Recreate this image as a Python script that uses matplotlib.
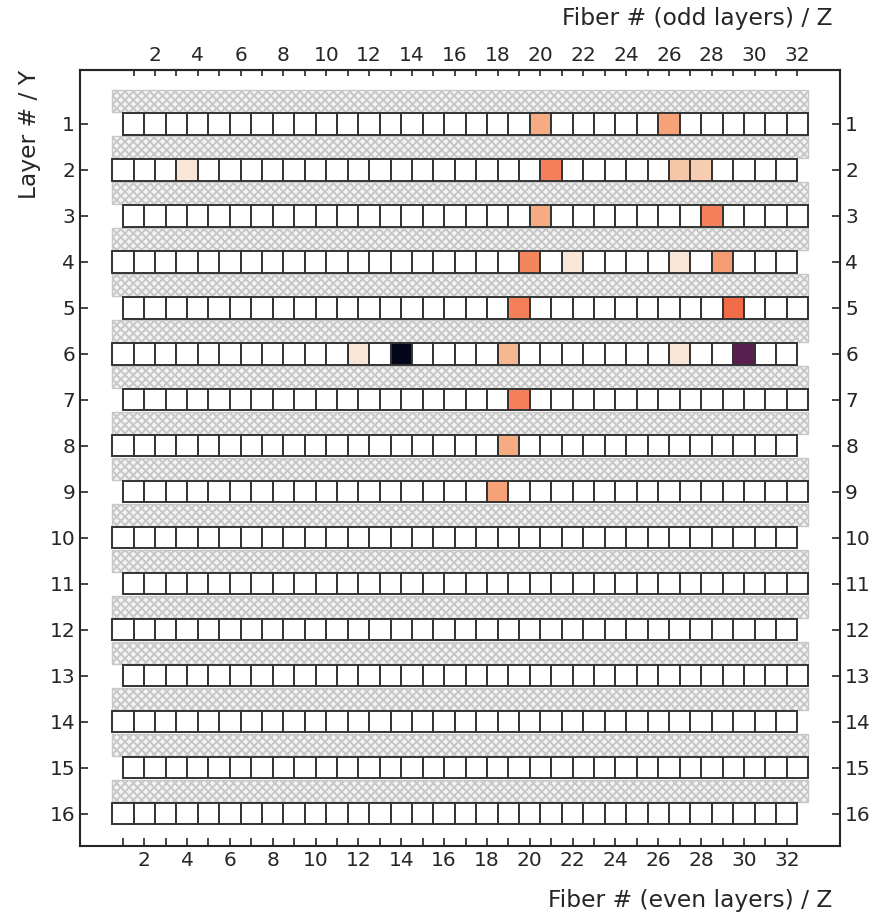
import numpy as np
import matplotlib
matplotlib.use('Agg')
import matplotlib.pyplot as plt
import seaborn as sns

sns.set_style('ticks')
plt.rcParams['font.family'] = ['DejaVu Sans']
plt.rcParams['hatch.linewidth'] = 1.4

# 검출기 구성
n_layers = 16
n_fibers = 32

# 히트가 있는 셀 (layer, fiber, count)
hit_layers = [1, 1, 2, 2, 2, 2, 3, 3, 4, 4, 4, 4, 5, 5, 6, 6, 6, 6, 6, 7, 8, 9]
hit_fibers = [20, 26, 4, 21, 27, 28, 20, 28, 20, 22, 27, 29, 19, 29, 12, 14, 19, 27, 30, 19, 19, 18]
hit_counts = [5, 5.7, 0.4, 8, 3, 2.4, 5, 8, 7.5, 0.4, 0.4, 6, 8, 9.3, 0.4, 30, 4, 0.4, 23, 8, 5, 5.7]

counts = np.zeros((n_layers, n_fibers))
for l, f, c in zip(hit_layers, hit_fibers, hit_counts):
    counts[l - 1, f - 1] = c

cmap = sns.color_palette('rocket_r', as_cmap=True)
norm = plt.Normalize(vmin=0, vmax=30)

fig = plt.figure(figsize=(8.79, 9.16), dpi=100)
ax = fig.add_axes([0.091, 0.0764, 0.865, 0.847])

fibers = np.arange(1, n_fibers + 1)
layers = np.arange(1, n_layers + 1)
cell_h = 0.46
band_h = 0.47

# 층 사이 해칭 띠
ax.barh(layers - 0.5, width=32.5, left=0.5, height=band_h, color='#f4f4f4',
        edgecolor='0.78', hatch='xxxx', linewidth=1, zorder=1)

for layer in layers:
    offset = 0.5 if layer % 2 == 1 else 0.0
    row = counts[layer - 1]
    colors = [cmap(norm(v)) if v > 0 else 'white' for v in row]
    ax.bar(fibers + offset, cell_h, width=1, bottom=layer - cell_h / 2,
           color=colors, edgecolor='0.2', linewidth=1.4, zorder=2)

ax.set_xlim(-1, 34.5)
ax.set_ylim(16.7, -0.17)

tick_lbl = [str(f) if f % 2 == 0 else '' for f in fibers]
ax.set_xticks(fibers)
ax.set_xticklabels(tick_lbl)
ax.set_yticks(layers)
ax.tick_params(axis='both', direction='in', length=6, width=1.2,
               labelsize=14.5, colors='0.15')
ax.tick_params(axis='y', right=True, labelright=True, left=True)

top = ax.secondary_xaxis('top', functions=(lambda x: x - 0.5, lambda x: x + 0.5))
top.set_xticks(fibers)
top.set_xticklabels(tick_lbl)
top.tick_params(direction='in', length=4, width=1.2, labelsize=14.5, colors='0.15')
top.set_xlabel('Fiber # (odd layers) / Z', loc='right', fontsize=16.8,
               color='0.15', labelpad=15)
top.xaxis.label.set_x(0.99)

ax.set_xlabel('Fiber # (even layers) / Z', loc='right', fontsize=16.8,
              color='0.15', labelpad=14)
ax.xaxis.label.set_x(0.99)
ax.set_ylabel('Layer # / Y', loc='top', fontsize=16.8, color='0.15', labelpad=6)

for sp in ax.spines.values():
    sp.set_linewidth(1.5)
    sp.set_color('0.15')
top.spines['top'].set_linewidth(1.5)
top.spines['top'].set_color('0.15')

fig.savefig('out.png', dpi=100)
